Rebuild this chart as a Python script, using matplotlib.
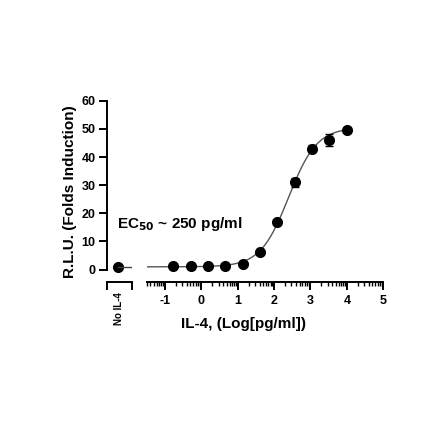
import numpy as np
import matplotlib.pyplot as plt

plt.rcParams["font.family"] = ["Liberation Sans", "DejaVu Sans"]
plt.rcParams["font.weight"] = "bold"
plt.rcParams["axes.unicode_minus"] = False

# IL-4 dose (log10 pg/ml) and response
log_dose = [-0.77, -0.29, 0.18, 0.66, 1.14, 1.61, 2.09, 2.57, 3.05, 3.52, 4.0]
rlu = [1.3, 1.3, 1.3, 1.3, 2.0, 6.2, 16.9, 31.0, 43.0, 46.0, 49.5]
rlu_err = [0.3, 0.3, 0.3, 0.3, 0.3, 0.4, 0.6, 1.6, 1.2, 2.2, 0.5]
no_il4 = 1.1

# 4PL fit parameters
bottom, top, log_ec50, hill = 1.0, 50.5, 2.40, 1.12

x_major = [-1, 0, 1, 2, 3, 4, 5]
y_major = [0, 10, 20, 30, 40, 50, 60]

fig = plt.figure(figsize=(4.4, 4.4), dpi=100)
ax0 = fig.add_axes([0.2425, 0.3584, 0.0568, 0.4127])
ax = fig.add_axes([0.3334, 0.3584, 0.5377, 0.4127])

ylim = (-4.5, 60)
lw = 1.4

# control panel
ax0.plot([0.45], [no_il4], "o", color="black", ms=7)
ax0.plot([0.45, 1.0], [no_il4, no_il4], color="#444444", lw=1)
ax0.set_xlim(0, 1)
ax0.set_ylim(*ylim)
ax0.set_yticks(y_major)
ax0.set_yticklabels([str(v) for v in y_major], fontsize=9, fontweight="bold")
ax0.set_xticks([0, 1])
ax0.set_xticklabels(["", ""])
ax0.tick_params(axis="both", which="major", length=6, width=lw, pad=2)
for s in ["top", "right"]:
    ax0.spines[s].set_visible(False)
for s in ["left", "bottom"]:
    ax0.spines[s].set_linewidth(lw)
ax0.spines["left"].set_bounds(0, 60)
ax0.set_ylabel("R.L.U. (Folds Induction)", fontsize=11, fontweight="bold", labelpad=3)
ax0.text(0.5, -0.055, "No IL-4", transform=ax0.transAxes, rotation=90,
         ha="center", va="top", fontsize=7, fontweight="bold")

# dose-response panel
xs = np.linspace(-1.5, 4.0, 300)
fit = bottom + (top - bottom) / (1 + 10 ** ((log_ec50 - xs) * hill))
ax.plot(xs, fit, color="#555555", lw=1)
ax.errorbar(log_dose, rlu, yerr=rlu_err, fmt="o", color="black", ms=7,
            capsize=3, elinewidth=1, capthick=1)
ax.set_xlim(-1.5, 5)
ax.set_ylim(*ylim)
ax.set_xticks(x_major)
ax.set_xticklabels([str(v) for v in x_major], fontsize=9, fontweight="bold")
minor = [d + np.log10(k) for d in range(-2, 5) for k in range(2, 10)]
minor = [m for m in minor if -1.5 <= m <= 5] + [-1.5]
ax.set_xticks(minor, minor=True)
ax.tick_params(axis="x", which="major", length=6, width=lw, pad=3)
ax.tick_params(axis="x", which="minor", length=3, width=1)
ax.set_yticks([])
for s in ["top", "right", "left"]:
    ax.spines[s].set_visible(False)
ax.spines["bottom"].set_linewidth(lw)
ax.set_xlabel("IL-4, (Log[pg/ml])", fontsize=11, fontweight="bold")
ax.xaxis.set_label_coords(0.411, -0.19)

fig.text(0.265, 0.491, "EC$_{\\mathbf{50}}$ ~ 250 pg/ml", fontsize=11,
         fontweight="bold", va="center", ha="left")

fig.savefig("out.png", dpi=100)
